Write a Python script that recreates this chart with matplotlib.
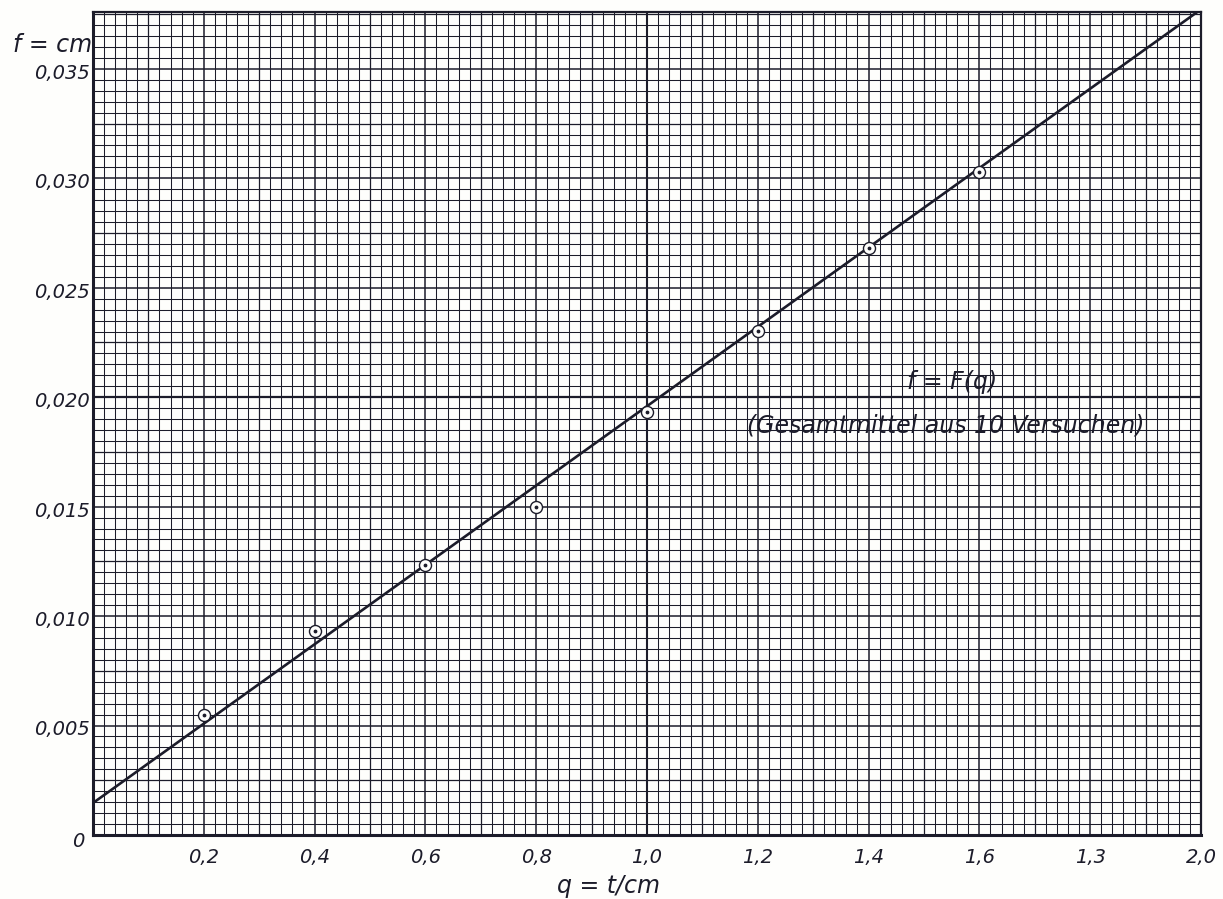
import matplotlib

matplotlib.use("Agg")
import matplotlib.pyplot as plt
import numpy as np

# measured points (q in t/cm, f in cm)
q_vals = [0.2, 0.4, 0.6, 0.8, 1.0, 1.2, 1.4, 1.6]
f_vals = [0.00549, 0.00930, 0.01232, 0.01497, 0.01931, 0.02303, 0.02682, 0.03031]

# drawn straight line through the points
fit_q = [0.0, 2.0]
fit_f = [0.00146, 0.03772]

x_ticks = [0.2, 0.4, 0.6, 0.8, 1.0, 1.2, 1.4, 1.6, 1.8, 2.0]
x_labels = ["0,2", "0,4", "0,6", "0,8", "1,0", "1,2", "1,4", "1,6", "1,3", "2,0"]
y_ticks = [0.005, 0.010, 0.015, 0.020, 0.025, 0.030, 0.035]
y_labels = ["0,005", "0,010", "0,015", "0,020", "0,025", "0,030", "0,035"]

ink = "#1c1c2a"
paper = "#fefefc"
font = dict(family="DejaVu Sans", style="italic", color=ink)

fig = plt.figure(figsize=(12.23, 8.99), dpi=100, facecolor=paper)
ax = fig.add_axes([0.076, 0.0712, 0.906, 0.9155])
ax.set_facecolor(paper)
ax.set_xlim(0, 2.0)
ax.set_ylim(0, 0.0376)

# graph paper grid
xs = np.arange(0.02, 2.0, 0.02)
ys = np.arange(0.0005, 0.0376, 0.0005)
for i, x in enumerate(xs, start=1):
    lw = 0.75
    if i % 10 == 0:
        lw = 1.1
    elif i % 5 == 0:
        lw = 0.9
    if i == 50:
        lw = 1.5
    ax.axvline(x, color=ink, lw=lw, zorder=1)
for i, y in enumerate(ys, start=1):
    lw = 0.75
    if i % 10 == 0:
        lw = 1.1
    elif i % 5 == 0:
        lw = 0.9
    if i == 40:
        lw = 1.6
    ax.axhline(y, color=ink, lw=lw, zorder=1)

ax.plot(fit_q, fit_f, color=ink, lw=1.9, zorder=3)
ax.scatter(q_vals, f_vals, s=75, facecolors=paper, edgecolors=ink, linewidths=1.0, zorder=4)
ax.scatter(q_vals, f_vals, s=3, color=ink, zorder=5)

for side in ["left", "bottom"]:
    ax.spines[side].set_linewidth(2.2)
    ax.spines[side].set_color(ink)
for side in ["right", "top"]:
    ax.spines[side].set_linewidth(1.6)
    ax.spines[side].set_color(ink)

ax.set_xticks([])
ax.set_yticks([])
for x, lab in zip(x_ticks, x_labels):
    ax.text(x, -0.0006, lab, ha="center", va="top", fontsize=14, **font)
for y, lab in zip(y_ticks, y_labels):
    ax.text(-0.006, y - 0.0002, lab, ha="right", va="center", fontsize=14, **font)
ax.text(-0.016, -0.0003, "0", ha="right", va="center", fontsize=14, **font)

ax.text(0.93, -0.0018, "q = t/cm", ha="center", va="top", fontsize=17, **font)
ax.text(-0.002, 0.0361, "f = cm", ha="right", va="center", fontsize=17, **font)

ax.text(1.55, 0.0207, "f = F(q)", ha="center", va="center", fontsize=17, **font)
ax.text(1.54, 0.0187, "(Gesamtmittel aus 10 Versuchen)", ha="center", va="center",
        fontsize=17, **font)

fig.savefig("out.png", dpi=100, facecolor=paper)
